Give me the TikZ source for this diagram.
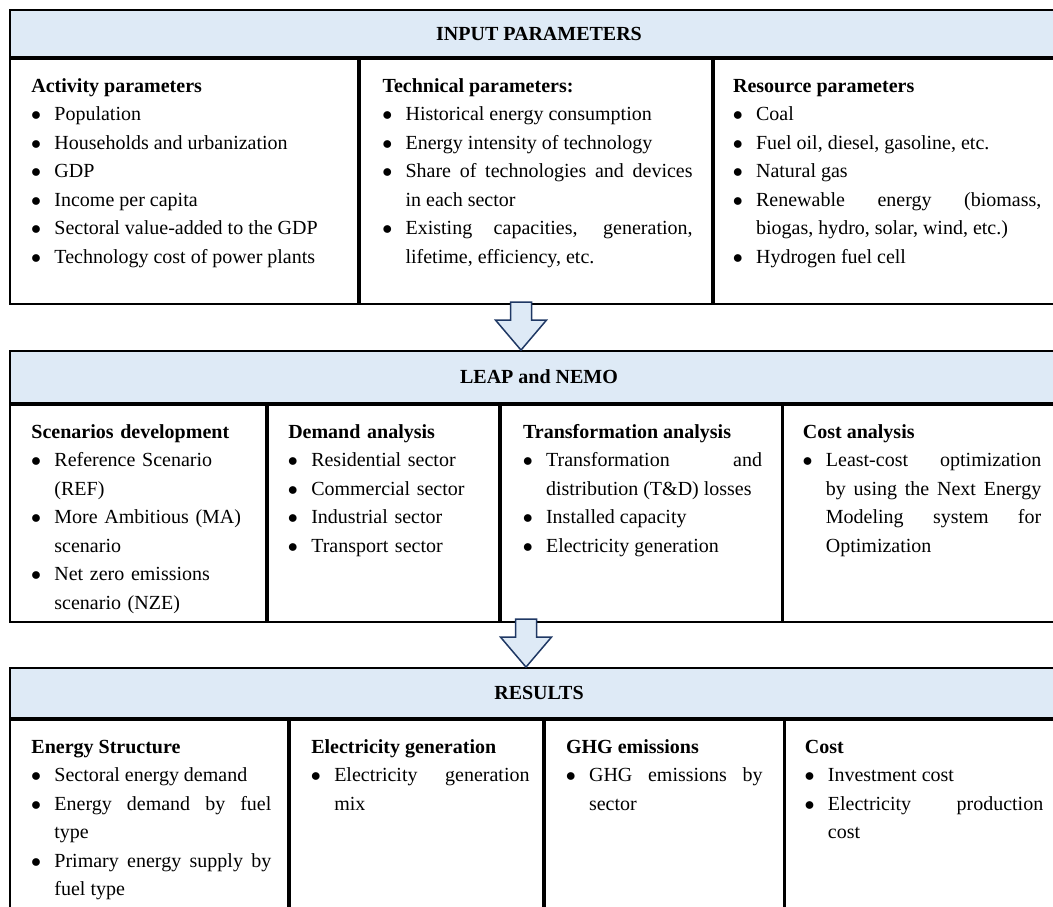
\documentclass[tikz,border=0pt]{standalone}
\usepackage{fontspec}
\setmainfont{Liberation Serif}
\usepackage{enumitem}
\usetikzlibrary{positioning}
\setlist[itemize]{label=$\bullet$, leftmargin=13.8pt, labelsep=8pt, itemsep=0pt, parsep=0pt, topsep=0pt, partopsep=0pt}
\hyphenpenalty=10000
\exhyphenpenalty=10000
\definecolor{headblue}{HTML}{DEEAF6}
\definecolor{arrowblue}{HTML}{1F3864}
\tikzset {
    style H/.style={
        fill=headblue,
        draw=black,
        line width=1.1pt,
        rectangle, % header bar of a block
        inner sep=0pt,
        minimum width=634.8pt,
        font=\fontsize{12}{17.1}\selectfont\bfseries,
    },
    style K/.style={
        fill=white,
        draw=black,
        line width=1.1pt,
        rectangle, % one column of a block
        inner sep=0pt,
    },
    style T/.style={
        inner sep=0pt,
        align=justify,
    },
    style R/.style={
        fill=headblue,
        draw=arrowblue,
        line width=0.9pt,
        line join=miter,
    },
}

\begin{document}
\begin{tikzpicture}
[x=0.6pt, y=-0.6pt, font=\fontsize{12}{17.1}\selectfont]
\useasboundingbox (0,0) rectangle (1053,907);
\clip (0,0) rectangle (1053,907);

\node[style H, minimum height=28.2pt] at (539, 33.5) (inputhead) {INPUT PARAMETERS};
\node[style K, minimum width=208.8pt, minimum height=147pt, below right=0pt and 0pt of inputhead.south west] (actcell) {};
\node[style K, minimum width=211.2pt, minimum height=147pt, right=0pt of actcell] (techcell) {};
\node[style K, minimum width=214.8pt, minimum height=147pt, right=0pt of techcell] (rescell) {};

\node[style H, minimum height=31.2pt] at (539, 377) (leaphead) {LEAP and NEMO};
\node[style K, minimum width=153.6pt, minimum height=130.2pt, below right=0pt and 0pt of leaphead.south west] (scencell) {};
\node[style K, minimum width=138.6pt, minimum height=130.2pt, right=0pt of scencell] (demcell) {};
\node[style K, minimum width=168.6pt, minimum height=130.2pt, right=0pt of demcell] (transcell) {};
\node[style K, minimum width=174pt, minimum height=130.2pt, right=0pt of transcell] (costcell) {};

\node[style H, minimum height=30pt] at (539, 693) (resulthead) {RESULTS};
\node[style K, minimum width=166.8pt, minimum height=138pt, below right=0pt and 0pt of resulthead.south west] (structcell) {};
\node[style K, minimum width=151.8pt, minimum height=138pt, right=0pt of structcell] (eleccell) {};
\node[style K, minimum width=143.4pt, minimum height=138pt, right=0pt of eleccell] (ghgcell) {};
\node[style K, minimum width=172.8pt, minimum height=138pt, right=0pt of ghgcell] (rescostcell) {};

\node[style T, text width=190pt, below right=8.4pt and 13.2pt of actcell.north west] (acttext) {\strut\textbf{Activity parameters}
\begin{itemize}
\item Population
\item Households and urbanization
\item GDP
\item Income per capita
\item Sectoral value-added to the GDP
\item Technology cost of power plants
\end{itemize}};
\node[style T, text width=186pt, below right=8.4pt and 14pt of techcell.north west] (techtext) {\strut\textbf{Technical parameters:}
\begin{itemize}
\item Historical energy consumption
\item Energy intensity of technology
\item Share of technologies and devices\linebreak in each sector
\item Existing capacities, generation,\linebreak lifetime, efficiency, etc.
\end{itemize}};
\node[style T, text width=185pt, below right=8.4pt and 12pt of rescell.north west] (restext) {\strut\textbf{Resource parameters}
\begin{itemize}
\item Coal
\item Fuel oil, diesel, gasoline, etc.
\item Natural gas
\item Renewable energy (biomass,\linebreak biogas, hydro, solar, wind, etc.)
\item Hydrogen fuel cell
\end{itemize}};

\node[style T, align=left, text width=140pt, below right=8.4pt and 13.2pt of scencell.north west] (scentext) {\strut\textbf{Scenarios development}
\begin{itemize}
\item Reference Scenario\newline (REF)
\item More Ambitious (MA)\newline scenario
\item Net zero emissions\newline scenario (NZE)
\end{itemize}};
\node[style T, align=left, text width=120pt, below right=8.4pt and 12.6pt of demcell.north west] (demtext) {\strut\textbf{Demand analysis}
\begin{itemize}
\item Residential sector
\item Commercial sector
\item Industrial sector
\item Transport sector
\end{itemize}};
\node[style T, text width=143.4pt, below right=8.4pt and 13.8pt of transcell.north west] (transtext) {\strut\textbf{Transformation analysis}
\begin{itemize}
\item Transformation and\linebreak distribution (T\&D) losses
\item Installed capacity
\item Electricity generation
\end{itemize}};
\node[style T, text width=143pt, below right=8.4pt and 12pt of costcell.north west] (costtext) {\strut\textbf{Cost analysis}
\begin{itemize}
\item Least-cost optimization\linebreak by using the Next Energy\linebreak Modeling system for\linebreak Optimization
\end{itemize}};

\node[style T, text width=144pt, below right=8.4pt and 13.2pt of structcell.north west] (structtext) {\strut\textbf{Energy Structure}
\begin{itemize}
\item Sectoral energy demand
\item Energy demand by fuel\linebreak type
\item Primary energy supply by\linebreak fuel type
\end{itemize}};
\node[style T, text width=131pt, below right=8.4pt and 13.2pt of eleccell.north west] (electext) {\strut\textbf{Electricity generation}
\begin{itemize}
\item Electricity generation\linebreak mix
\end{itemize}};
\node[style T, text width=118pt, below right=8.4pt and 13.2pt of ghgcell.north west] (ghgtext) {\strut\textbf{GHG emissions}
\begin{itemize}
\item GHG emissions by\linebreak sector
\end{itemize}};
\node[style T, text width=143pt, below right=8.4pt and 12pt of rescostcell.north west] (rescosttext) {\strut\textbf{Cost}
\begin{itemize}
\item Investment cost
\item Electricity production\linebreak cost
\end{itemize}};

\coordinate (tipA) at ([xshift=-10.8pt]leaphead.north);
\coordinate (tipB) at ([xshift=-7.8pt]resulthead.north);
\draw[style R] (tipA) -- ++(-25.5,-30) -- ++(15,0) -- ++(0,-18) -- ++(21,0) -- ++(0,18) -- ++(15,0) -- cycle;
\draw[style R] (tipB) -- ++(-25.5,-30) -- ++(15,0) -- ++(0,-18) -- ++(21,0) -- ++(0,18) -- ++(15,0) -- cycle;
\end{tikzpicture}
\end{document}
